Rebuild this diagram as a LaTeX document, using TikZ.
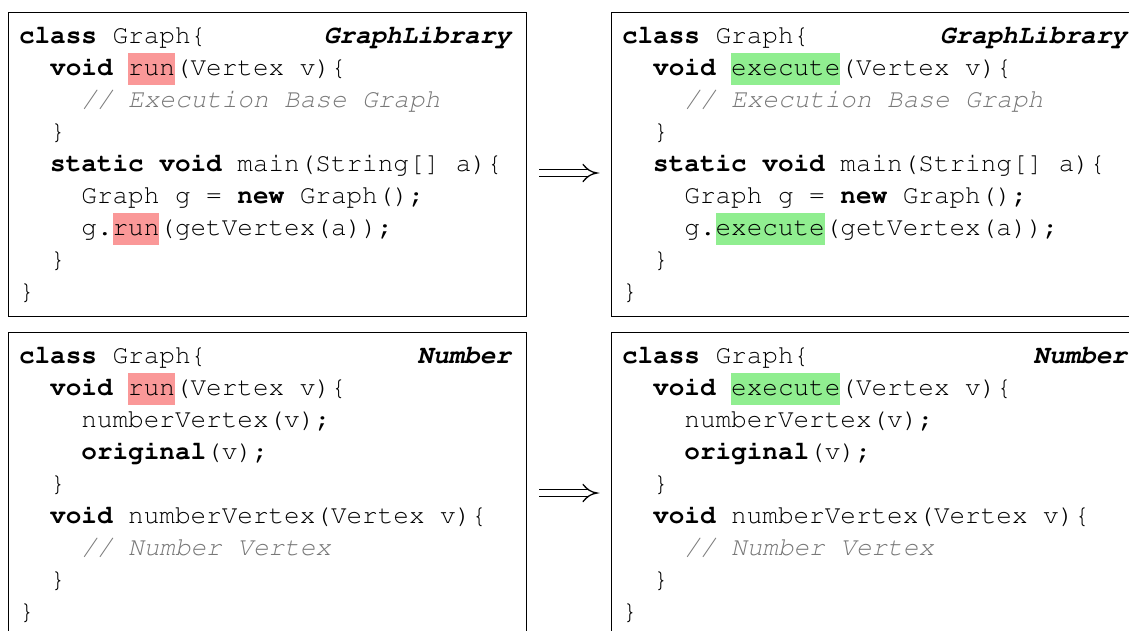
\documentclass[tikz,border=0pt]{standalone}
\usepackage[T1,TU]{fontenc}
\usepackage{xcolor}
\definecolor{hlred}{RGB}{250,152,152}
\definecolor{hlgreen}{RGB}{144,238,144}
\definecolor{cmtgray}{RGB}{120,120,120}
\newcommand\codefont{\fontencoding{T1}\fontfamily{pcr}\fontseries{m}\fontshape{n}\fontsize{26}{32}\selectfont\frenchspacing}
\newcommand\kw[1]{{\bfseries #1}}
\newcommand\cmt[1]{{\color{cmtgray}\itshape #1}}
\newcommand\hlr[1]{{\setlength\fboxsep{0pt}\colorbox{hlred}{\rule[-9.5pt]{0pt}{32pt}#1}}}
\newcommand\hlg[1]{{\setlength\fboxsep{0pt}\colorbox{hlgreen}{\rule[-9.5pt]{0pt}{32pt}#1}}}
% \cl{name}{x0}{level}{baseline y}{text}
\newcommand\cl[5]{\node[codeline] (#1) at ({#2+#3*31.2},#4) {#5};}
\tikzset{
  codebox/.style={draw=black, line width=0.8pt, anchor=north west, inner sep=0pt, outer sep=0pt},
  codeline/.style={anchor=base west, inner sep=0pt, outer sep=0pt, font=\codefont},
  codelabel/.style={anchor=base east, inner sep=0pt, outer sep=0pt, font=\codefont\bfseries\itshape},
  implarrow/.pic={
    \draw[line width=1.3pt] (-29,-3.6) -- (21,-3.6) (-29,3.6) -- (21,3.6);
    \draw[line width=1.3pt, line cap=round] (15,-8.6) .. controls (19,-3.6) and (23,-0.8) .. (29,0)
      .. controls (23,0.8) and (19,3.6) .. (15,8.6);
  }
}
\begin{document}
\begin{tikzpicture}[x=1pt,y=-1pt]
\useasboundingbox (0,0) rectangle (1129,630);
\fill[white] (0,0) rectangle (1129,630);
\clip (0,0) rectangle (1129,630);

% boxes
\node[codebox, minimum width=518pt, minimum height=304pt] (tlbox) at (8,12) {};
\node[codebox, minimum width=531pt, minimum height=304pt] (trbox) at (611,12) {};
\node[codebox, minimum width=518pt, minimum height=304pt] (blbox) at (8,332) {};
\node[codebox, minimum width=531pt, minimum height=304pt] (brbox) at (611,332) {};

% arrows (double implication)
\pic (arrtop) at (568,173) {implarrow};
\pic (arrbot) at (568,493) {implarrow};

% top left
\node[codelabel] (tllab) at (511,43) {GraphLibrary};
\cl{tl0}{19}{0}{43}{\kw{class} Graph\{}
\cl{tl1}{19}{1}{75}{\kw{void} \hlr{run}(Vertex v)\{}
\cl{tl2}{19}{2}{107}{\cmt{// Execution Base Graph}}
\cl{tl3}{19}{1}{139}{\}}
\cl{tl4}{19}{1}{171}{\kw{static} \kw{void} main(String[] a)\{}
\cl{tl5}{19}{2}{203}{Graph g = \kw{new} Graph();}
\cl{tl6}{19}{2}{235}{g.\hlr{run}(getVertex(a));}
\cl{tl7}{19}{1}{267}{\}}
\cl{tl8}{19}{0}{299}{\}}

% top right
\node[codelabel] (trlab) at (1127,43) {GraphLibrary};
\cl{tr0}{622}{0}{43}{\kw{class} Graph\{}
\cl{tr1}{622}{1}{75}{\kw{void} \hlg{execute}(Vertex v)\{}
\cl{tr2}{622}{2}{107}{\cmt{// Execution Base Graph}}
\cl{tr3}{622}{1}{139}{\}}
\cl{tr4}{622}{1}{171}{\kw{static} \kw{void} main(String[] a)\{}
\cl{tr5}{622}{2}{203}{Graph g = \kw{new} Graph();}
\cl{tr6}{622}{2}{235}{g.\hlg{execute}(getVertex(a));}
\cl{tr7}{622}{1}{267}{\}}
\cl{tr8}{622}{0}{299}{\}}

% bottom left
\node[codelabel] (bllab) at (511,363) {Number};
\cl{bl0}{19}{0}{363}{\kw{class} Graph\{}
\cl{bl1}{19}{1}{395}{\kw{void} \hlr{run}(Vertex v)\{}
\cl{bl2}{19}{2}{427}{numberVertex(v);}
\cl{bl3}{19}{2}{459}{\kw{original}(v);}
\cl{bl4}{19}{1}{491}{\}}
\cl{bl5}{19}{1}{523}{\kw{void} numberVertex(Vertex v)\{}
\cl{bl6}{19}{2}{555}{\cmt{// Number Vertex}}
\cl{bl7}{19}{1}{587}{\}}
\cl{bl8}{19}{0}{619}{\}}

% bottom right
\node[codelabel] (brlab) at (1127,363) {Number};
\cl{br0}{622}{0}{363}{\kw{class} Graph\{}
\cl{br1}{622}{1}{395}{\kw{void} \hlg{execute}(Vertex v)\{}
\cl{br2}{622}{2}{427}{numberVertex(v);}
\cl{br3}{622}{2}{459}{\kw{original}(v);}
\cl{br4}{622}{1}{491}{\}}
\cl{br5}{622}{1}{523}{\kw{void} numberVertex(Vertex v)\{}
\cl{br6}{622}{2}{555}{\cmt{// Number Vertex}}
\cl{br7}{622}{1}{587}{\}}
\cl{br8}{622}{0}{619}{\}}
\end{tikzpicture}
\end{document}
